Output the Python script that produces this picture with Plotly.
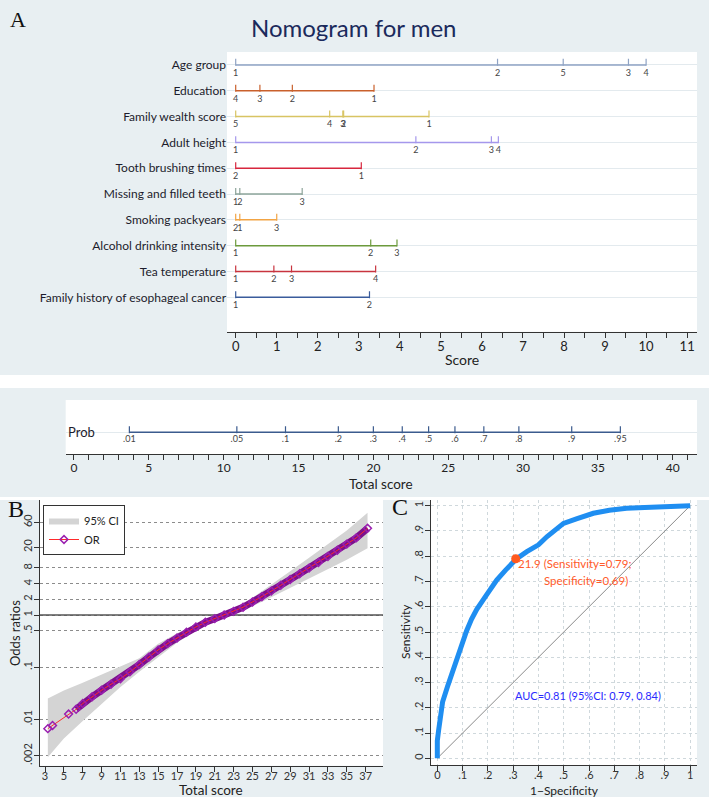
import plotly.graph_objects as go

W, H = 709, 797
FONT = "Lato"
SERIF = "Liberation Serif"
BG = "#e8eff2"

def fx(p):
    return p / W

def fy(p):
    return 1 - p / H

# ---------------- Panel A: nomogram data ----------------
rows = ["Age group", "Education", "Family wealth score", "Adult height",
        "Tooth brushing times", "Missing and filled teeth", "Smoking packyears",
        "Alcohol drinking intensity", "Tea temperature",
        "Family history of esophageal cancer"]
row_colors = ["#8fa3c4", "#c9602c", "#d8c463", "#a597ec", "#d7263d",
              "#8da49a", "#f2a444", "#6c9a3c", "#c8343f", "#3a5c9c"]

age_pts = [0, 6.38, 7.98, 9.57, 10.0]
age_lbl = ["1", "2", "5", "3", "4"]
edu_pts = [0, 0.59, 1.38, 3.37]
edu_lbl = ["4", "3", "2", "1"]
wealth_pts = [0, 2.29, 2.61, 2.63, 4.71]
wealth_lbl = ["5", "4", "3", "2", "1"]
height_pts = [0, 4.39, 6.23, 6.40]
height_lbl = ["1", "2", "3", "4"]
brush_pts = [0, 3.06]
brush_lbl = ["2", "1"]
teeth_pts = [0, 0.1, 1.62]
teeth_lbl = ["1", "2", "3"]
smoke_pts = [0, 0.1, 1.0]
smoke_lbl = ["2", "1", "3"]
alcohol_pts = [0, 3.29, 3.93]
alcohol_lbl = ["1", "2", "3"]
tea_pts = [0, 0.93, 1.36, 3.41]
tea_lbl = ["1", "2", "3", "4"]
famhist_pts = [0, 3.26]
famhist_lbl = ["1", "2"]

row_pts = [age_pts, edu_pts, wealth_pts, height_pts, brush_pts,
           teeth_pts, smoke_pts, alcohol_pts, tea_pts, famhist_pts]
row_lbls = [age_lbl, edu_lbl, wealth_lbl, height_lbl, brush_lbl,
            teeth_lbl, smoke_lbl, alcohol_lbl, tea_lbl, famhist_lbl]

score_ticks = list(range(0, 12))

# ---------------- Prob scale ----------------
prob_lbl = [".01", ".05", ".1", ".2", ".3", ".4", ".5", ".6", ".7", ".8", ".9", ".95"]
prob_score = [3.70, 10.88, 14.13, 17.66, 20.0, 21.93, 23.69, 25.45, 27.38, 29.72, 33.25, 36.5]
total_ticks = list(range(0, 45, 5))

# ---------------- Panel B: odds ratios ----------------
or_score = [3.3, 3.8, 5.5, 6.3, 7, 8, 9, 10, 11, 12, 13, 14, 15, 16, 17, 18, 19, 20,
            21, 22, 23, 24, 25, 26, 27, 28, 29, 30, 31, 32, 33, 34, 35, 36, 37.2]
or_val = [0.0066, 0.0076, 0.0126, 0.0155, 0.020, 0.027, 0.036, 0.047, 0.060, 0.081,
          0.112, 0.155, 0.214, 0.282, 0.363, 0.468, 0.589, 0.724, 0.851, 1.0, 1.175,
          1.41, 1.78, 2.24, 2.88, 3.72, 4.79, 6.17, 7.94, 10.2, 13.2, 17.4, 22.9, 30.2, 46.0]
ci_score = [3.3, 5, 7, 9, 11, 13, 15, 17, 19, 21, 22, 23, 25, 27, 29, 31, 33, 35, 37.2]
ci_lower = [0.00186, 0.00427, 0.0093, 0.020, 0.0417, 0.0813, 0.158, 0.295, 0.501, 0.759,
            0.891, 1.047, 1.48, 2.19, 3.31, 5.01, 7.59, 11.5, 19.1]
ci_upper = [0.0251, 0.0355, 0.050, 0.0724, 0.102, 0.148, 0.282, 0.447, 0.676, 0.955,
            1.12, 1.32, 2.14, 3.80, 6.92, 12.6, 22.9, 41.7, 91.2]
or_ticks = [0.002, 0.01, 0.1, 0.5, 1, 2, 4, 8, 20, 60]
or_tick_lbl = [".002", ".01", ".1", ".5", "1", "2", "4", "8", "20", "60"]
b_xticks = list(range(3, 38, 2))

# ---------------- Panel C: ROC ----------------
fpr = [0, 0.0, 0.005, 0.011, 0.021, 0.04, 0.063, 0.08, 0.097, 0.116, 0.135, 0.156, 0.19,
       0.222, 0.235, 0.27, 0.311, 0.354, 0.4, 0.433, 0.47, 0.499, 0.55, 0.617, 0.68,
       0.749, 0.82, 0.9, 0.95, 1.0]
tpr = [0, 0.07, 0.11, 0.152, 0.224, 0.283, 0.35, 0.405, 0.45, 0.505, 0.55, 0.59, 0.64,
       0.693, 0.706, 0.745, 0.788, 0.818, 0.845, 0.877, 0.905, 0.93, 0.948, 0.97, 0.982,
       0.99, 0.993, 0.996, 0.998, 1.0]
cut_fpr, cut_tpr = [0.31], [0.79]
c_ticks = [0, 0.1, 0.2, 0.3, 0.4, 0.5, 0.6, 0.7, 0.8, 0.9, 1.0]
c_tick_lbl = ["0", ".1", ".2", ".3", ".4", ".5", ".6", ".7", ".8", ".9", "1"]

fig = go.Figure()

# ---- nomogram traces ----
for i, (pts, lbls, col) in enumerate(zip(row_pts, row_lbls, row_colors)):
    fig.add_trace(go.Scatter(x=[min(pts), max(pts)], y=[i, i], mode="lines",
                             line=dict(color=col, width=1.5), xaxis="x", yaxis="y",
                             showlegend=False, hoverinfo="skip"))
    fig.add_trace(go.Scatter(x=pts, y=[i - 0.1] * len(pts), mode="markers",
                             marker=dict(symbol="line-ns", size=5,
                                         line=dict(color=col, width=1.2)),
                             xaxis="x", yaxis="y", showlegend=False, hoverinfo="skip"))
    fig.add_trace(go.Scatter(x=pts, y=[i + 0.33] * len(pts), mode="text", text=lbls,
                             textfont=dict(size=9, color="#444", family=FONT),
                             xaxis="x", yaxis="y", showlegend=False, hoverinfo="skip"))

# ---- prob scale ----
pcol = "#3b5b8e"
fig.add_trace(go.Scatter(x=[min(prob_score), max(prob_score)], y=[0, 0], mode="lines",
                         line=dict(color=pcol, width=1.5), xaxis="x2", yaxis="y2",
                         showlegend=False, hoverinfo="skip"))
fig.add_trace(go.Scatter(x=prob_score, y=[0.12] * len(prob_score), mode="markers",
                         marker=dict(symbol="line-ns", size=5, line=dict(color=pcol, width=1.2)),
                         xaxis="x2", yaxis="y2", showlegend=False, hoverinfo="skip"))
fig.add_trace(go.Scatter(x=prob_score, y=[-0.36] * len(prob_score), mode="text",
                         text=prob_lbl, textfont=dict(size=9, color="#444", family=FONT),
                         xaxis="x2", yaxis="y2", showlegend=False, hoverinfo="skip"))

# ---- panel B ----
fig.add_trace(go.Scatter(x=[2.47, 38.84], y=[1, 1], mode="lines",
                         line=dict(color="#555", width=1.5), xaxis="x3", yaxis="y3",
                         showlegend=False, hoverinfo="skip"))
fig.add_trace(go.Scatter(x=ci_score, y=ci_upper, mode="lines", line=dict(width=0),
                         xaxis="x3", yaxis="y3", showlegend=False, hoverinfo="skip"))
fig.add_trace(go.Scatter(x=ci_score, y=ci_lower, mode="lines", line=dict(width=0),
                         fill="tonexty", fillcolor="#d4d4d4", name="95% CI",
                         xaxis="x3", yaxis="y3", hoverinfo="skip"))
fig.add_trace(go.Scatter(x=or_score[3:], y=or_val[3:], mode="lines",
                         line=dict(color="#7d108c", width=7), xaxis="x3", yaxis="y3",
                         showlegend=False, hoverinfo="skip"))
fig.add_trace(go.Scatter(x=or_score, y=or_val, mode="lines+markers", name="OR",
                         line=dict(color="#ff2a2a", width=1),
                         marker=dict(symbol="diamond-open", size=6, color="#9a1fb0",
                                     line=dict(width=1.5, color="#9a1fb0")),
                         xaxis="x3", yaxis="y3", hoverinfo="skip"))

# ---- panel C ----
fig.add_trace(go.Scatter(x=[0, 1], y=[0, 1], mode="lines", line=dict(color="#8a8a8a", width=1),
                         xaxis="x4", yaxis="y4", showlegend=False, hoverinfo="skip"))
fig.add_trace(go.Scatter(x=fpr, y=tpr, mode="lines", line=dict(color="#1f8ef1", width=5),
                         xaxis="x4", yaxis="y4", showlegend=False, hoverinfo="skip"))
fig.add_trace(go.Scatter(x=cut_fpr, y=cut_tpr, mode="markers",
                         marker=dict(color="#ff5a1f", size=9),
                         xaxis="x4", yaxis="y4", showlegend=False, hoverinfo="skip"))

# ---- backgrounds ----
shapes = []
def rect(x0, y0, x1, y1, color):
    shapes.append(dict(type="rect", xref="paper", yref="paper", x0=fx(x0), x1=fx(x1),
                       y0=fy(y1), y1=fy(y0), fillcolor=color, line=dict(width=0),
                       layer="below"))
rect(0, 0, W, 375, BG)
rect(0, 388, W, 497, BG)
rect(0, 500, 383, H, BG)
rect(383, 500, W, H, BG)
rect(227, 52, 697, 331.7, "white")
rect(65.7, 400, 697, 454.3, "white")
rect(40, 500, 383, 765.7, "white")
rect(431, 500, 697, 765, "white")

axcol = "#333"
tickfont13 = dict(size=13, color="#222", family=FONT)
tickfont12 = dict(size=12, color="#222", family=FONT)
tickfont11 = dict(size=11, color="#333", family=FONT)

fig.update_layout(
    width=W, height=H, margin=dict(l=0, r=0, t=0, b=0),
    paper_bgcolor="white", plot_bgcolor="rgba(0,0,0,0)",
    font=dict(family=FONT, color="#222"),
    shapes=shapes,
    xaxis=dict(domain=[fx(227), fx(697)], anchor="y", range=[-0.212, 11.24],
               tickvals=score_ticks, ticks="outside", ticklen=5, tickcolor=axcol,
               minor=dict(dtick=0.5, ticks="outside", ticklen=5, tickcolor=axcol),
               showline=True, linecolor=axcol, linewidth=1, showgrid=False,
               zeroline=False, tickfont=tickfont13, ticklabelstandoff=-2),
    yaxis=dict(domain=[fy(331.7), fy(52)], anchor="x", range=[10.33, -0.5],
               tickvals=list(range(len(rows))), ticktext=rows, ticks="",
               showgrid=True, gridcolor="#e3eaee", gridwidth=1, zeroline=False,
               showline=False, tickfont=dict(size=12, color="#1c1c2c", family=FONT)),
    xaxis2=dict(domain=[fx(65.7), fx(697)], anchor="y2", range=[-0.554, 41.62],
                tickvals=total_ticks, ticks="outside", ticklen=5, tickcolor=axcol,
                minor=dict(dtick=1, ticks="outside", ticklen=5, tickcolor=axcol),
                showline=True, linecolor=axcol, linewidth=1, showgrid=False,
                zeroline=False, tickfont=tickfont12, ticklabelstandoff=-3),
    yaxis2=dict(domain=[fy(454.3), fy(400)], anchor="x2", range=[-1, 1.468],
                tickvals=[0], showticklabels=False, ticks="", showgrid=True,
                gridcolor="#e3eaee", zeroline=False, showline=False),
    xaxis3=dict(domain=[fx(40), fx(383)], anchor="y3", range=[2.47, 38.84],
                tickvals=b_xticks, ticks="outside", ticklen=5, tickcolor=axcol,
                showline=True, linecolor=axcol, linewidth=1, showgrid=False,
                zeroline=False, tickfont=tickfont11, ticklabelstandoff=-5),
    yaxis3=dict(domain=[fy(765.7), fy(500)], anchor="x3", type="log",
                range=[-2.891, 2.206], tickvals=or_ticks, ticktext=or_tick_lbl,
                tickangle=-90, ticks="outside", ticklen=5, tickcolor=axcol,
                showline=True, linecolor=axcol, linewidth=1, showgrid=True,
                gridcolor="#8c8c8c", griddash="dot", gridwidth=1, zeroline=False,
                tickfont=tickfont11, ticklabelstandoff=-2),
    xaxis4=dict(domain=[fx(431), fx(697)], anchor="y4", range=[-0.025, 1.027],
                tickvals=c_ticks, ticktext=c_tick_lbl, ticks="outside", ticklen=5,
                tickcolor=axcol, showline=True, linecolor=axcol, linewidth=1,
                showgrid=True, gridcolor="#cfd8dc", griddash="dot", zeroline=False,
                tickfont=tickfont11, ticklabelstandoff=-5),
    yaxis4=dict(domain=[fy(765), fy(500)], anchor="x4", range=[-0.0265, 1.0226],
                tickvals=c_ticks, ticktext=c_tick_lbl, tickangle=-90, ticks="outside",
                ticklen=5, tickcolor=axcol, showline=True, linecolor=axcol, linewidth=1,
                showgrid=True, gridcolor="#cfd8dc", griddash="dot", zeroline=False,
                tickfont=tickfont11, ticklabelstandoff=-2),
    legend=dict(x=fx(43), y=fy(505), xanchor="left", yanchor="top", bgcolor="white",
                bordercolor="#333", borderwidth=1, font=dict(size=11, family=FONT, color="#222"),
                tracegroupgap=0, itemwidth=30, traceorder="normal"),
)

ann = []
def text(x, y, s, size, color="#222", family=FONT, angle=0, xanchor="center"):
    ann.append(dict(x=fx(x), y=fy(y), xref="paper", yref="paper", text=s, showarrow=False,
                    font=dict(size=size, color=color, family=family), textangle=angle,
                    xanchor=xanchor, yanchor="middle"))

text(354, 28, "Nomogram for men", 24, color="#1b2a5c")
text(8, 20, "A", 22, color="#111", family=SERIF, xanchor="left")
text(6, 509, "B", 24, color="#111", family=SERIF, xanchor="left")
text(390, 507, "C", 24, color="#111", family=SERIF, xanchor="left")
text(462, 359, "Score", 14)
text(381, 484, "Total score", 13.5)
text(66, 432, "Prob", 13, color="#1c1c2c", xanchor="left")
text(15, 633, "Odds ratios", 13, angle=-90)
text(211, 790, "Total score", 13.5)
text(405, 632, "Sensitivity", 12, angle=-90)
text(564, 790, "1\u2212Specificity", 12)
text(516, 563, "21.9 (Sensitivity=0.79;", 11.5, color="#ff5a2a", xanchor="left")
text(630, 580, "Specificity=0.69)", 11.5, color="#ff5a2a", xanchor="right")
text(513, 695, "AUC=0.81 (95%CI: 0.79, 0.84)", 11, color="#2b2bff", xanchor="left")
fig.update_layout(annotations=ann)

fig.write_html("out.html", config={"displayModeBar": False},
               post_script="document.body.style.margin='0px';")
